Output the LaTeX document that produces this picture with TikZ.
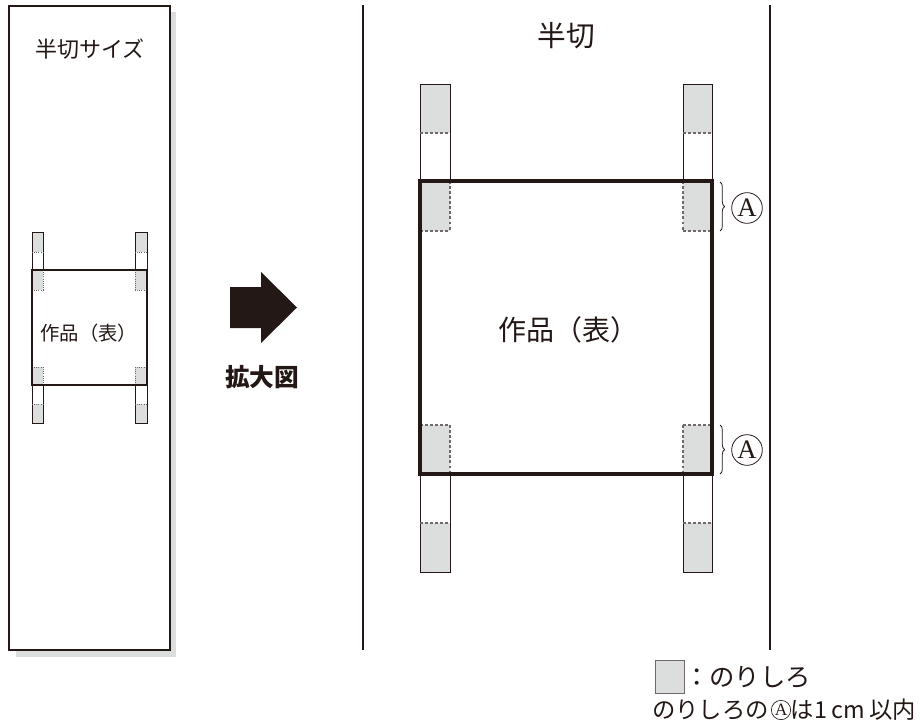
\documentclass[tikz,border=0pt]{standalone}
\usepackage{fontspec}
\setmainfont{Noto Sans CJK JP}
\newfontfamily\jp{Noto Sans CJK JP}
\newfontfamily\serifA{Liberation Serif}
\usetikzlibrary{decorations.pathreplacing}
\definecolor{ink}{HTML}{231815}
\definecolor{paste}{HTML}{DCDDDD}
\definecolor{edge}{HTML}{6E6A69}
\tikzset{
  stripline/.style={draw=ink,line width=0.7pt},
  dashline/.style={draw=edge,line width=0.8pt,dash pattern=on 2.2pt off 1.6pt},
  dotline/.style={draw=edge,line width=0.6pt,dash pattern=on 0.8pt off 0.8pt},
  frame/.style={draw=ink,line width=2.8pt},
  smallframe/.style={draw=ink,line width=2.2pt},
  label/.style={inner sep=0pt,text=ink,font=\jp},
  circA/.style={circle,draw=ink,line width=0.6pt,inner sep=0pt,minimum size=23pt,text=ink,font=\serifA\fontsize{20}{20}\selectfont},
  smallcircA/.style={circle,draw=ink,line width=0.5pt,inner sep=0pt,minimum size=14.5pt,text=ink,font=\serifA\fontsize{13}{13}\selectfont},
  bracestyle/.style={draw=ink,line width=0.6pt,decorate,decoration={brace,amplitude=3.5pt}}
}
\begin{document}
\begin{tikzpicture}[x=0.75pt,y=-0.75pt]
\useasboundingbox (0,0) rectangle (924,724);
% ---- left panel (sheet with shadow)
\fill[paste] (16,12) rectangle (176,657);
\draw[fill=white,draw=ink,line width=1.6pt] (9,6) rectangle (170,650);
\node[label,font=\jp\fontsize{16.5}{16.5}\selectfont] (t1) at (90,49) {半切サイズ};
% small strips
\foreach \a/\b/\i in {32/43/43, 135/147/135} {
  \fill[paste] (\a,232) rectangle (\b,252);
  \fill[paste] (\a,270) rectangle (\b,290);
  \fill[paste] (\a,367) rectangle (\b,385);
  \fill[paste] (\a,404) rectangle (\b,423);
  \draw[stripline,line width=0.5pt] (\a,270) -- (\a,232) -- (\b,232) -- (\b,270);
  \draw[stripline,line width=0.5pt] (\a,385) -- (\a,423) -- (\b,423) -- (\b,385);
  \draw[dotline] (\a,252) -- (\b,252);
  \draw[dotline] (\i,270) -- (\i,290);
  \draw[dotline] (\a,290) -- (\b,290);
  \draw[dotline] (\a,367) -- (\b,367);
  \draw[dotline] (\i,367) -- (\i,385);
  \draw[dotline] (\a,404) -- (\b,404);
}
\draw[smallframe] (32,270) rectangle (147,385);
\node[label,font=\jp\fontsize{14.5}{14.5}\selectfont] (w1) at (89,333) {作品（表）};
% ---- arrow
\fill[ink] (230,287) -- (261,287) -- (261,272) -- (297,307.5) -- (261,343) -- (261,328) -- (230,328) -- cycle;
\node[label,font=\jp\bfseries\fontsize{18.5}{18.5}\selectfont] (en) at (262,377) {拡大図};
% ---- right panel
\draw[draw=ink,line width=1.3pt] (363,5) -- (363,650);
\draw[draw=ink,line width=1.3pt] (770,5) -- (770,650);
\node[label,font=\jp\fontsize{21.5}{21.5}\selectfont] (t2) at (566,36) {半切};
\foreach \a/\b/\i in {420/450/450, 683/712/683} {
  \fill[paste] (\a,84) rectangle (\b,133);
  \fill[paste] (\a,181) rectangle (\b,231);
  \fill[paste] (\a,425) rectangle (\b,474);
  \fill[paste] (\a,523) rectangle (\b,572);
  \draw[stripline] (\a,181) -- (\a,84) -- (\b,84) -- (\b,181);
  \draw[stripline] (\a,474) -- (\a,572) -- (\b,572) -- (\b,474);
  \draw[dashline] (\a,133) -- (\b,133);
  \draw[dashline] (\i,181) -- (\i,231);
  \draw[dashline] (\a,231) -- (\b,231);
  \draw[dashline] (\a,425) -- (\b,425);
  \draw[dashline] (\i,425) -- (\i,474);
  \draw[dashline] (\a,523) -- (\b,523);
}
\draw[frame] (420,181) rectangle (712,474);
\node[label,font=\jp\fontsize{21}{21}\selectfont] (w2) at (568,330) {作品（表）};
% braces and circled A
\coordinate (b1s) at (720,182);
\coordinate (b1e) at (720,231);
\coordinate (b2s) at (720,425);
\coordinate (b2e) at (720,474);
\draw[bracestyle] (b1s) -- (b1e);
\draw[bracestyle] (b2s) -- (b2e);
\node[circA] (A1) at (747,208) {A};
\node[circA] (A2) at (747,450) {A};
% ---- legend
\draw[fill=paste,draw=edge,line width=0.6pt] (655,660) rectangle (684,693);
\node[label,anchor=west,font=\jp\fontsize{19}{19}\selectfont] (lg1) at (684,677) {：のりしろ};
\node[label,anchor=west,font=\jp\fontsize{17.5}{17.5}\selectfont] (lg2) at (652,710) {のりしろの};
\node[smallcircA] (lgA) at (781,710) {A};
\node[label,anchor=west,font=\jp\fontsize{17.5}{17.5}\selectfont] (lg3) at (790,710) {は\hspace{1pt}1\hspace{3pt}cm\hspace{3pt}以内};
\end{tikzpicture}
\end{document}
